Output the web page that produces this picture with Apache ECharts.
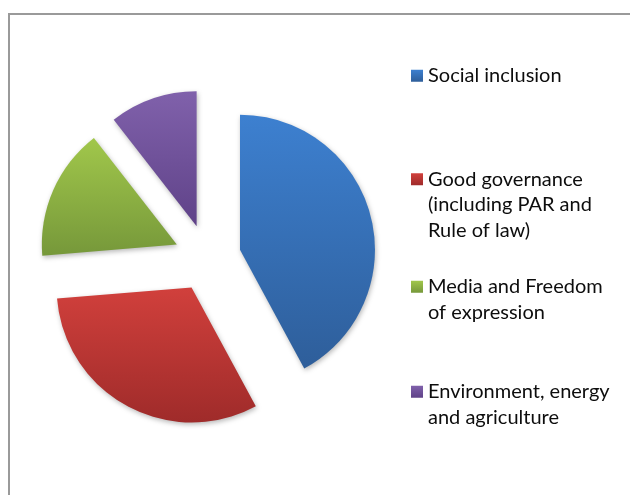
<!DOCTYPE html>
<html>
<head>
<meta charset="utf-8">
<script src="https://cdn.jsdelivr.net/npm/echarts@6/dist/echarts.min.js"></script>
<style>
  html, body { margin: 0; padding: 0; background: #fff; }
  #chart { width: 630px; height: 495px; }
</style>
</head>
<body>
<div id="chart"></div>
<script>
// ---- data ----
const categories = [
  'Social inclusion',
  'Good governance\n(including PAR and\nRule of law)',
  'Media and Freedom\nof expression',
  'Environment, energy\nand agriculture'
];
const values = [8, 6, 3, 2];
const topColors = ['#3d80d0', '#d1403c', '#a1c74b', '#8061ab'];
const bottomColors = ['#2e5e9a', '#9f2b2a', '#76983a', '#5f4288'];

const LH = 25.5;
const legendTops = [63, 115.5, 248.5, 353.5];

function grad(i) {
  return new echarts.graphic.LinearGradient(0, 0, 0, 1, [
    { offset: 0, color: topColors[i] },
    { offset: 1, color: bottomColors[i] }
  ]);
}

const chart = echarts.init(document.getElementById('chart'), null, { renderer: 'canvas' });

const legends = categories.map((name, i) => {
  const n = name.split('\n').length;
  return {
    data: [name],
    orient: 'vertical',
    left: 411,
    top: legendTops[i],
    padding: 0,
    icon: 'rect',
    itemWidth: 12,
    itemHeight: 12,
    selectedMode: false,
    formatter: function (nm) { return '\n'.repeat(n - 1) + nm; },
    textStyle: {
      fontFamily: 'Lato',
      fontSize: 20,
      lineHeight: LH,
      color: '#0d0d0d'
    }
  };
});

chart.setOption({
  animation: false,
  backgroundColor: '#ffffff',
  legend: legends,
  graphic: [{
    type: 'rect',
    shape: { x: 9, y: 14, width: 700, height: 600 },
    style: { fill: 'none', stroke: '#9a9a9a', lineWidth: 2 },
    silent: true
  }],
  series: [{
    type: 'pie',
    center: [207.5, 258],
    radius: 135,
    startAngle: 90,
    clockwise: true,
    selectedMode: 'multiple',
    selectedOffset: 33.5,
    label: { show: false },
    labelLine: { show: false },
    emphasis: { disabled: true },
    itemStyle: {
      shadowBlur: 5,
      shadowColor: 'rgba(0,0,0,0.28)',
      shadowOffsetX: 1,
      shadowOffsetY: 2
    },
    data: categories.map((name, i) => ({
      name: name,
      value: values[i],
      selected: true,
      itemStyle: { color: grad(i) }
    }))
  }]
});
</script>
</body>
</html>
